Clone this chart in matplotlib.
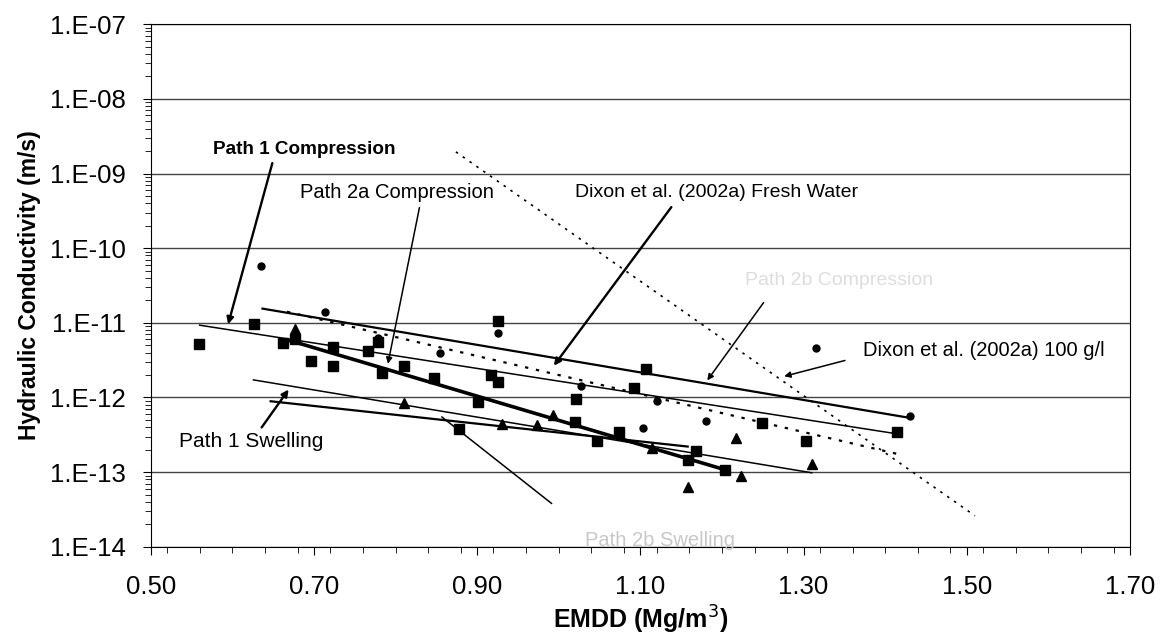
import matplotlib
matplotlib.use("Agg")
import matplotlib.pyplot as plt
from matplotlib.ticker import MultipleLocator, LogLocator, NullFormatter

plt.rcParams['font.family'] = ['Liberation Sans', 'DejaVu Sans']

# measured points
sq_x = [0.559, 0.626, 0.662, 0.677, 0.696, 0.723, 0.723, 0.766, 0.778, 0.784, 0.811, 0.847,
        0.878, 0.901, 0.917, 0.925, 0.925, 1.021, 1.020, 1.047, 1.074, 1.092, 1.107, 1.158,
        1.168, 1.204, 1.249, 1.303, 1.414]
sq_k = [5.2e-12, 9.6e-12, 5.4e-12, 6.0e-12, 3.1e-12, 4.8e-12, 2.6e-12, 4.2e-12, 5.6e-12, 2.1e-12,
        2.6e-12, 1.8e-12, 3.8e-13, 8.7e-13, 2.0e-12, 1.05e-11, 1.6e-12, 9.5e-13, 4.7e-13, 2.6e-13,
        3.5e-13, 1.35e-12, 2.4e-12, 1.45e-13, 1.9e-13, 1.07e-13, 4.5e-13, 2.6e-13, 3.5e-13]

ci_x = [0.635, 0.714, 0.677, 0.778, 0.855, 0.925, 1.027, 1.121, 1.103, 1.180, 1.315, 1.430]
ci_k = [5.7e-11, 1.4e-11, 6.8e-12, 6.3e-12, 4.0e-12, 7.2e-12, 1.43e-12, 8.9e-13, 3.9e-13,
        4.9e-13, 4.6e-12, 5.6e-13]

tr_x = [0.677, 0.811, 0.931, 0.973, 0.993, 1.114, 1.217, 1.223, 1.158, 1.310]
tr_k = [8.3e-12, 8.5e-13, 4.4e-13, 4.3e-13, 5.9e-13, 2.1e-13, 2.9e-13, 8.9e-14, 6.3e-14, 1.3e-13]

# trend lines (end points)
p1c_x = [0.560, 1.419]
p1c_k = [9.3e-12, 3.2e-13]
p2a_x = [0.668, 1.207]
p2a_k = [5.9e-12, 1.05e-13]
p2bc_x = [0.637, 1.427]
p2bc_k = [1.55e-11, 5.4e-13]
p1s_x = [0.626, 1.310]
p1s_k = [1.72e-12, 9.8e-14]
p2bs_x = [0.647, 1.158]
p2bs_k = [8.9e-13, 2.2e-13]
dfw_x = [0.667, 1.420]
dfw_k = [1.41e-11, 1.7e-13]
d100_x = [0.874, 1.510]
d100_k = [1.95e-9, 2.6e-14]

fig = plt.figure(figsize=(11.68, 6.38), dpi=100)
ax = fig.add_axes([0.129, 0.143, 0.8385, 0.819])
ax.set_yscale('log')
ax.set_xlim(0.5, 1.7)
ax.set_ylim(1e-14, 1e-7)

ax.grid(True, axis='y', which='major', color='#444444', linewidth=1.0)
ax.set_axisbelow(True)

ax.plot(sq_x, sq_k, 's', color='black', markersize=6.5, zorder=3)
ax.plot(ci_x, ci_k, 'o', color='black', markersize=5, zorder=3)
ax.plot(tr_x, tr_k, '^', color='black', markersize=6.5, zorder=3)

ax.plot(p1c_x, p1c_k, color='black', linewidth=1.1)
ax.plot(p2a_x, p2a_k, color='black', linewidth=2.6)
ax.plot(p2bc_x, p2bc_k, color='black', linewidth=1.6)
ax.plot(p1s_x, p1s_k, color='black', linewidth=1.1)
ax.plot(p2bs_x, p2bs_k, color='black', linewidth=1.6)
ax.plot(dfw_x, dfw_k, color='black', linewidth=1.6, linestyle=(0, (1.5, 3.5)))
ax.plot(d100_x, d100_k, color='black', linewidth=1.2, linestyle=(0, (1.5, 3.5)))

thick = dict(arrowstyle='-|>', color='black', linewidth=1.7, mutation_scale=10)
thin = dict(arrowstyle='-|>', color='black', linewidth=1.1, mutation_scale=9)

ax.text(0.576, 2.1e-9, "Path 1 Compression", fontsize=13.6, fontweight='bold', va='center')
ax.annotate("", xy=(0.594, 8.8e-12), xytext=(0.650, 1.5e-9), arrowprops=thick)

ax.text(0.683, 5.6e-10, "Path 2a Compression", fontsize=14.5, va='center')
ax.annotate("", xy=(0.790, 2.6e-12), xytext=(0.830, 3.8e-10), arrowprops=thin)

ax.text(1.02, 5.6e-10, "Dixon et al. (2002a) Fresh Water", fontsize=14, va='center')
ax.annotate("", xy=(0.992, 2.49e-12), xytext=(1.14, 3.8e-10), arrowprops=thick)

ax.text(1.228, 3.7e-11, "Path 2b Compression", fontsize=14, color='#dddddd', va='center')
ax.annotate("", xy=(1.180, 1.58e-12), xytext=(1.253, 2.0e-11), arrowprops=thin)

ax.text(1.373, 4.3e-12, "Dixon et al. (2002a) 100 g/l", fontsize=14.5, va='center')
ax.annotate("", xy=(1.273, 1.88e-12), xytext=(1.354, 3.2e-12), arrowprops=thin)

ax.text(0.535, 2.55e-13, "Path 1 Swelling", fontsize=15, va='center')
ax.annotate("", xy=(0.671, 1.37e-12), xytext=(0.634, 3.7e-13), arrowprops=thick)

ax.text(1.032, 1.2e-14, "Path 2b Swelling", fontsize=14.5, color='#c8c8c8', va='center',
        zorder=5)
ax.annotate("", xy=(0.854, 5.8e-13), xytext=(0.994, 3.6e-14),
            arrowprops=dict(arrowstyle='-', color='black', linewidth=1.1))

ax.set_xticks([0.5, 0.7, 0.9, 1.1, 1.3, 1.5, 1.7])
ax.set_xticklabels(['0.50', '0.70', '0.90', '1.10', '1.30', '1.50', '1.70'])
ax.xaxis.set_minor_locator(MultipleLocator(0.04))
ax.set_yticks([1e-14, 1e-13, 1e-12, 1e-11, 1e-10, 1e-9, 1e-8, 1e-7])
ax.set_yticklabels(['1.E-14', '1.E-13', '1.E-12', '1.E-11', '1.E-10', '1.E-09', '1.E-08', '1.E-07'])
ax.yaxis.set_minor_locator(LogLocator(base=10, subs=range(2, 10), numticks=20))
ax.yaxis.set_minor_formatter(NullFormatter())
ax.tick_params(axis='both', which='major', labelsize=18.5, length=6, direction='out')
ax.tick_params(axis='both', which='minor', length=4, direction='out')
ax.tick_params(axis='x', pad=14)
ax.tick_params(axis='y', pad=12)

ax.set_xlabel("EMDD (Mg/m$^3$)", fontsize=18, fontweight='bold', labelpad=4)
ax.set_ylabel("Hydraulic Conductivity (m/s)", fontsize=16.5, fontweight='bold', labelpad=6)

fig.savefig("out.png", dpi=100)
